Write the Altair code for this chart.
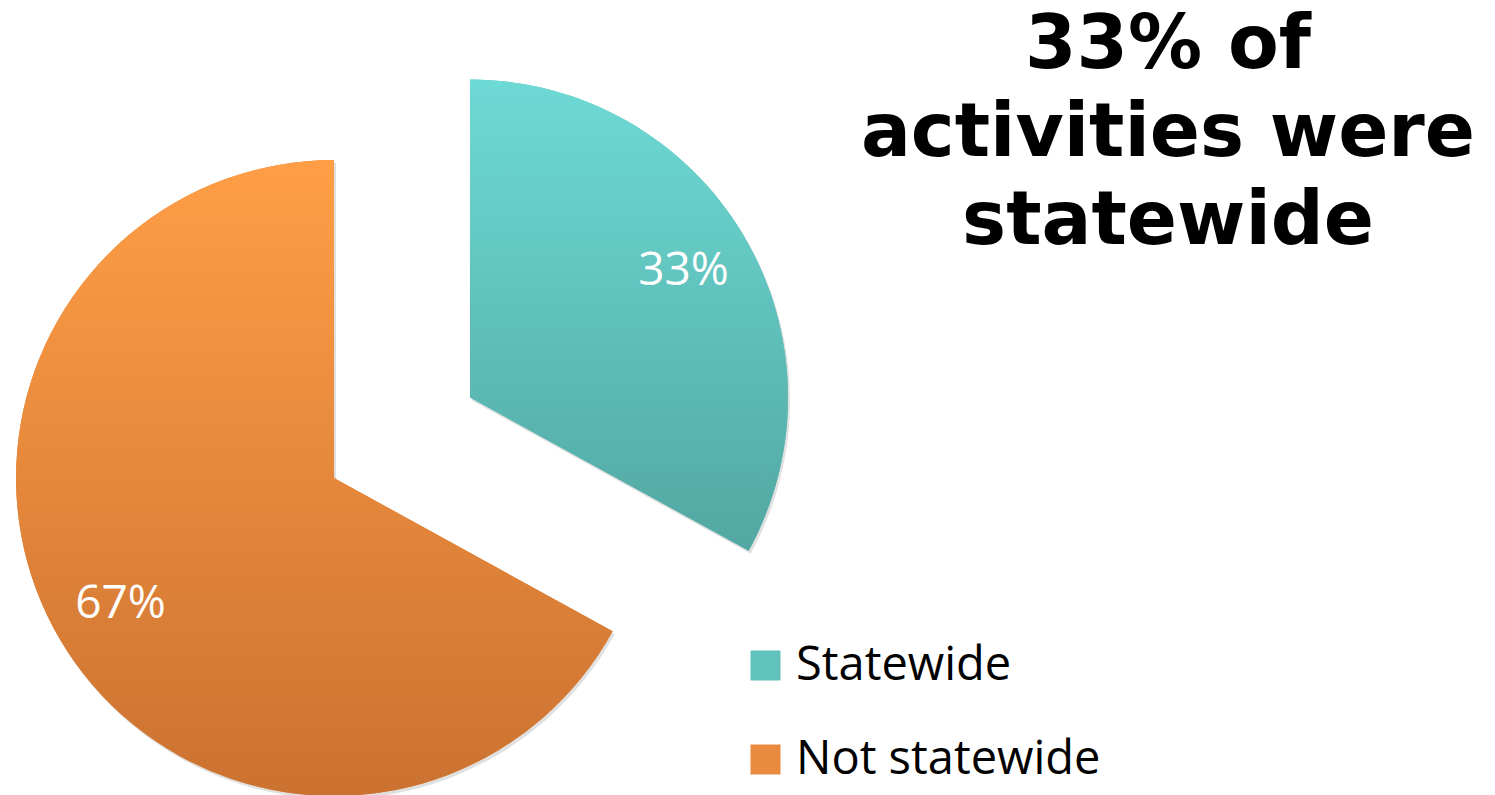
import altair as alt
import pandas as pd

# ---- data ----
categories = ["Statewide", "Not statewide"]
values = [33, 67]
title_lines = ["33% of", "activities were", "statewide"]

df = pd.DataFrame({"category": categories, "value": values, "idx": list(range(len(categories)))})
title_df = pd.DataFrame({"title": ["\n".join(title_lines)]})

# ---- layout / style constants ----
CX, CY, R = 326, 470, 318
EXPLODE = 158
LABEL_R = 248
legend_colors = ["#61C2BD", "#E98B3E"]
teal_grad = {"gradient": "linear", "x1": 0, "y1": 0, "x2": 0, "y2": 1,
             "stops": [{"offset": 0, "color": "#6EDAD5"}, {"offset": 1, "color": "#52A7A2"}]}
orange_grad = {"gradient": "linear", "x1": 0, "y1": 0, "x2": 0, "y2": 1,
               "stops": [{"offset": 0, "color": "#FF9E46"}, {"offset": 1, "color": "#CB7231"}]}

base = (
    alt.Chart(df)
    .transform_joinaggregate(total="sum(value)")
    .transform_window(cum="sum(value)", sort=[alt.SortField("idx")], frame=[None, 0])
    .transform_calculate(start="(datum.cum - datum.value) / datum.total")
    .transform_calculate(end="datum.cum / datum.total")
    .transform_calculate(ang="PI * (2 * datum.cum - datum.value) / datum.total")
    .transform_calculate(ex=f"datum.category === 'Statewide' ? {EXPLODE} : 0")
    .transform_calculate(px=f"{CX} + datum.ex * sin(datum.ang)")
    .transform_calculate(py=f"{CY} - datum.ex * cos(datum.ang)")
    .transform_calculate(lx=f"datum.px + {LABEL_R} * sin(datum.ang)")
    .transform_calculate(ly=f"datum.py - {LABEL_R} * cos(datum.ang)")
    .transform_calculate(label="datum.value + '%'")
)

theta = alt.Theta("start:Q", scale=alt.Scale(domain=[0, 1]))
theta2 = alt.Theta2("end:Q")
xpos = alt.X("px:Q", scale=None, axis=None)
ypos = alt.Y("py:Q", scale=None, axis=None)

shadow = base.transform_calculate(sx="datum.px + 2", sy="datum.py + 3").mark_arc(
    radius=R, color="#000000", opacity=0.12
).encode(
    theta=theta, theta2=theta2,
    x=alt.X("sx:Q", scale=None, axis=None), y=alt.Y("sy:Q", scale=None, axis=None),
)

slices = base.mark_arc(radius=R).encode(
    theta=theta, theta2=theta2, x=xpos, y=ypos,
    color=alt.Color(
        "category:N",
        scale=alt.Scale(domain=categories, range=legend_colors),
        legend=alt.Legend(
            title=None, orient="none", legendX=734, legendY=634,
            symbolType="square", symbolSize=900, symbolStrokeWidth=0,
            labelFont="Open Sans", labelFontSize=47, labelColor="#000000",
            labelOffset=7, rowPadding=46, padding=0, labelLimit=600,
        ),
    ),
)

grad = base.mark_arc(radius=R).encode(
    theta=theta, theta2=theta2, x=xpos, y=ypos,
    fill=alt.condition("datum.category === 'Statewide'", alt.value(teal_grad), alt.value(orange_grad)),
)

labels = base.mark_text(
    font="Open Sans", fontSize=46, color="white", align="center", baseline="middle"
).encode(
    x=alt.X("lx:Q", scale=None, axis=None),
    y=alt.Y("ly:Q", scale=None, axis=None),
    text="label:N",
)

title = alt.Chart(title_df).mark_text(
    font="DejaVu Sans", fontWeight="bold", fontSize=74, lineHeight=88,
    lineBreak="\n", align="center", baseline="alphabetic", color="#000000",
).encode(
    x=alt.value(1160), y=alt.value(60), text="title:N"
)

chart = alt.layer(shadow, slices, grad, labels, title).properties(
    width=1479, height=787, autosize=alt.AutoSizeParams(type="none"), padding=0
).configure_view(stroke=None)

chart.save("out.html", embed_options={"renderer": "svg", "actions": False})
